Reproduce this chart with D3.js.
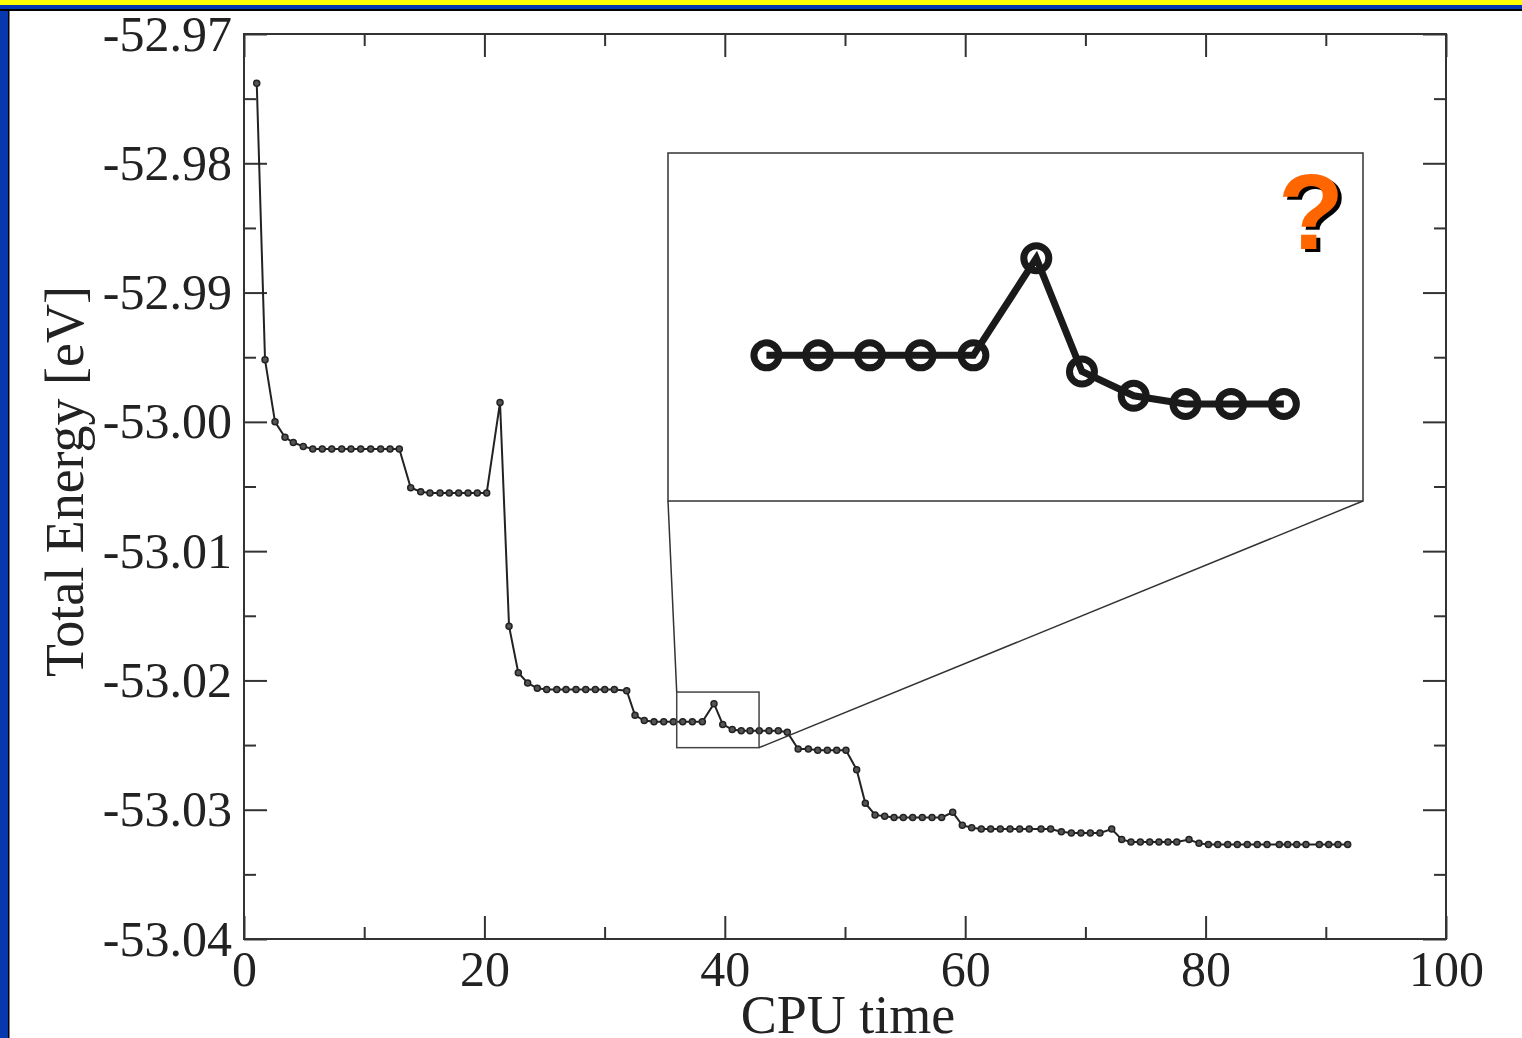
<!DOCTYPE html>
<html>
<head>
<meta charset="utf-8">
<script src="https://cdn.jsdelivr.net/npm/d3@7"></script>
<style>
  body { margin: 0; background: #fff; }
  svg { display: block; }
</style>
</head>
<body>
<div id="chart"></div>
<script>
// data
const cpuTime = [
  1.06, 1.75, 2.58, 3.41, 4.10, 4.93,
  5.72, 6.51, 7.30, 8.13, 8.90, 9.71, 10.54, 11.37, 12.15, 12.92,
  13.87, 14.70,
  15.47, 16.31, 17.08, 17.86, 18.64, 19.41, 20.19,
  21.30,
  22.05, 22.82, 23.60, 24.40, 25.18,
  26.02, 26.79, 27.62, 28.43, 29.23, 30.01, 30.81,
  31.84,
  32.53, 33.30, 34.11,
  34.92, 35.72, 36.50, 37.30, 38.13,
  39.10,
  39.83, 40.62, 41.37,
  42.10, 42.87, 43.68, 44.45,
  45.20,
  46.10, 46.95,
  47.73, 48.53, 49.31, 50.08,
  50.97,
  51.69, 52.50, 53.30, 54.08,
  54.85, 55.63, 56.43, 57.24, 58.04,
  58.96,
  59.76, 60.54, 61.34,
  62.12, 62.92, 63.73, 64.53, 65.33, 66.31, 67.11,
  68.00,
  68.83, 69.63, 70.41, 71.21,
  72.19,
  73.02, 73.79,
  74.57, 75.35, 76.12, 76.87, 77.60,
  78.62,
  79.45,
  80.23, 81.01, 81.84, 82.64, 83.47, 84.30, 85.11, 86.13, 86.83, 87.58, 88.35,
  89.46, 90.24, 91.01, 91.82
];
const totalEnergy = [
  -52.9738, -52.9952, -53.0000, -53.0012, -53.0016, -53.0019,
  -53.0021, -53.0021, -53.0021, -53.0021, -53.0021, -53.0021, -53.0021, -53.0021, -53.0021, -53.0021,
  -53.0051, -53.0054,
  -53.0055, -53.0055, -53.0055, -53.0055, -53.0055, -53.0055, -53.0055,
  -52.9985,
  -53.0158, -53.0194, -53.0202, -53.0206, -53.0207,
  -53.0207, -53.0207, -53.0207, -53.0207, -53.0207, -53.0207, -53.0207,
  -53.0208,
  -53.0227, -53.0231, -53.0232,
  -53.0232, -53.0232, -53.0232, -53.0232, -53.0232,
  -53.0218,
  -53.0234, -53.0238, -53.0239,
  -53.0239, -53.0239, -53.0239, -53.0239,
  -53.0240,
  -53.0253, -53.0253,
  -53.0254, -53.0254, -53.0254, -53.0254,
  -53.0269,
  -53.0295, -53.0304, -53.0305, -53.0306,
  -53.0306, -53.0306, -53.0306, -53.0306, -53.0306,
  -53.0302,
  -53.0312, -53.0314, -53.0315,
  -53.0315, -53.0315, -53.0315, -53.0315, -53.0315, -53.0315, -53.0315,
  -53.0317,
  -53.0318, -53.0318, -53.0318, -53.0318,
  -53.0315,
  -53.0323, -53.0325,
  -53.0325, -53.0325, -53.0325, -53.0325, -53.0325,
  -53.0323,
  -53.0326,
  -53.0327, -53.0327, -53.0327, -53.0327, -53.0327, -53.0327, -53.0327, -53.0327, -53.0327, -53.0327, -53.0327,
  -53.0327, -53.0327, -53.0327, -53.0327
];

// zoomed detail shown in the inset
const insetCpu = [36.97, 37.48, 37.99, 38.49, 39.01, 39.63, 40.08, 40.59, 41.10, 41.55, 42.07];
const insetEnergy = [-53.0234, -53.0234, -53.0234, -53.0234, -53.0234, -53.0222, -53.0236, -53.0239, -53.0240, -53.0240, -53.0240];
const zoomCpu = [36.0, 42.85];
const zoomEnergy = [-53.0209, -53.0252];

const xTicks = [0, 20, 40, 60, 80, 100];
const xMinor = [10, 30, 50, 70, 90];
const yTicks = [-52.97, -52.98, -52.99, -53.00, -53.01, -53.02, -53.03, -53.04];
const yMinor = [-52.975, -52.985, -52.995, -53.005, -53.015, -53.025, -53.035];

const W = 1522, H = 1038;
const margin = {top: 34, right: 76, bottom: 99, left: 244},
	innerWidth = W - margin.left - margin.right,
	innerHeight = H - margin.top - margin.bottom;

const svg = d3.select('#chart').append('svg').attr('width', W).attr('height', H);

// slide frame
svg.append('rect').attr('width', W).attr('height', H).attr('fill', '#fff');
svg.append('rect').attr('x', 0).attr('y', 0).attr('width', 8).attr('height', H).attr('fill', '#0638b0');
svg.append('rect').attr('x', 0).attr('y', 0).attr('width', W).attr('height', 9).attr('fill', '#0638b0');
svg.append('rect').attr('x', 0).attr('y', 0).attr('width', W).attr('height', 5).attr('fill', '#ffff00');
svg.append('rect').attr('x', 0).attr('y', 9).attr('width', W).attr('height', 2).attr('fill', '#000');
svg.append('rect').attr('x', 8).attr('y', 9).attr('width', 1.5).attr('height', H).attr('fill', '#000');

const g = svg.append('g').attr('transform', `translate(${margin.left},${margin.top})`);

const x = d3.scaleLinear().domain([0, 100]).range([0, innerWidth]);
const y = d3.scaleLinear().domain([-52.97, -53.04]).range([0, innerHeight]);

const font = '"Liberation Serif", "Times New Roman", serif';

// axes (ticks inward on all four sides)
const styleAxis = sel => {
	sel.select('.domain').remove();
	sel.selectAll('line').attr('stroke', '#333').attr('stroke-width', 2);
	sel.selectAll('text').attr('font-family', font).attr('font-size', 50).attr('fill', '#222');
};
g.append('g').attr('transform', `translate(0,${innerHeight})`)
	.call(d3.axisBottom(x).tickValues(xTicks).tickSize(-23).tickPadding(11).tickFormat(d => d))
	.call(styleAxis);
g.append('g').attr('transform', `translate(0,${innerHeight})`)
	.call(d3.axisBottom(x).tickValues(xMinor).tickSize(-12).tickFormat(''))
	.call(styleAxis);
g.append('g')
	.call(d3.axisTop(x).tickValues(xTicks).tickSize(-23).tickFormat(''))
	.call(styleAxis);
g.append('g')
	.call(d3.axisTop(x).tickValues(xMinor).tickSize(-12).tickFormat(''))
	.call(styleAxis);
g.append('g')
	.call(d3.axisLeft(y).tickValues(yTicks).tickSize(-23).tickPadding(12).tickFormat(d => d.toFixed(2)))
	.call(styleAxis);
g.append('g')
	.call(d3.axisLeft(y).tickValues(yMinor).tickSize(-12).tickFormat(''))
	.call(styleAxis);
g.append('g').attr('transform', `translate(${innerWidth},0)`)
	.call(d3.axisRight(y).tickValues(yTicks).tickSize(-23).tickFormat(''))
	.call(styleAxis);
g.append('g').attr('transform', `translate(${innerWidth},0)`)
	.call(d3.axisRight(y).tickValues(yMinor).tickSize(-12).tickFormat(''))
	.call(styleAxis);

g.append('rect')
	.attr('width', innerWidth).attr('height', innerHeight)
	.attr('fill', 'none').attr('stroke', '#333').attr('stroke-width', 2);

// axis titles
g.append('text')
	.attr('x', innerWidth / 2 + 3).attr('y', innerHeight + 94)
	.attr('text-anchor', 'middle')
	.attr('font-family', font).attr('font-size', 54).attr('fill', '#222')
	.text('CPU time');
g.append('text')
	.attr('transform', `translate(${83 - margin.left},${innerHeight / 2 - 5}) rotate(-90)`)
	.attr('text-anchor', 'middle')
	.attr('font-family', font).attr('font-size', 54).attr('fill', '#222')
	.text('Total Energy [eV]');

// main series
const data = cpuTime.map((t, i) => ({t: t, e: totalEnergy[i]}));
const line = d3.line().x(d => x(d.t)).y(d => y(d.e));
g.append('path').datum(data)
	.attr('d', line)
	.attr('fill', 'none').attr('stroke', '#222').attr('stroke-width', 2);
g.append('g').selectAll('circle')
	.data(data).enter().append('circle')
	.attr('cx', d => x(d.t)).attr('cy', d => y(d.e)).attr('r', 3)
	.attr('fill', '#555').attr('stroke', '#222').attr('stroke-width', 1.5);

// zoom window + inset panel
const inset = {x: 668 - margin.left, y: 153 - margin.top, w: 695, h: 348};
const zx0 = x(zoomCpu[0]), zx1 = x(zoomCpu[1]), zy0 = y(zoomEnergy[0]), zy1 = y(zoomEnergy[1]);

g.append('rect')
	.attr('x', zx0).attr('y', zy0).attr('width', zx1 - zx0).attr('height', zy1 - zy0)
	.attr('fill', 'none').attr('stroke', '#444').attr('stroke-width', 1.5);
g.append('line')
	.attr('x1', inset.x).attr('y1', inset.y + inset.h).attr('x2', zx0).attr('y2', zy0)
	.attr('stroke', '#333').attr('stroke-width', 1.5);
g.append('line')
	.attr('x1', inset.x + inset.w).attr('y1', inset.y + inset.h).attr('x2', zx1).attr('y2', zy1)
	.attr('stroke', '#333').attr('stroke-width', 1.5);

const ig = g.append('g').attr('transform', `translate(${inset.x},${inset.y})`);
ig.append('rect')
	.attr('width', inset.w).attr('height', inset.h)
	.attr('fill', '#fff').attr('stroke', '#333').attr('stroke-width', 1.5);

const ix = d3.scaleLinear().domain(zoomCpu).range([0, inset.w]);
const iy = d3.scaleLinear().domain(zoomEnergy).range([0, inset.h]);
const insetData = insetCpu.map((t, i) => ({t: t, e: insetEnergy[i]}));

ig.append('path').datum(insetData)
	.attr('d', d3.line().x(d => ix(d.t)).y(d => iy(d.e)))
	.attr('fill', 'none').attr('stroke', '#1a1a1a').attr('stroke-width', 7)
	.attr('stroke-linejoin', 'miter');
ig.append('g').selectAll('circle')
	.data(insetData).enter().append('circle')
	.attr('cx', d => ix(d.t)).attr('cy', d => iy(d.e)).attr('r', 12.5)
	.attr('fill', 'none').attr('stroke', '#1a1a1a').attr('stroke-width', 7);

// question mark
const qm = ig.append('g').attr('font-family', '"Liberation Sans", Arial, sans-serif')
	.attr('font-weight', 'bold').attr('font-size', 108).attr('text-anchor', 'middle');
qm.append('text').attr('x', 1311 - 668 + 4).attr('y', 249 - 153 + 3).attr('fill', '#000').text('?');
qm.append('text').attr('x', 1311 - 668).attr('y', 249 - 153).attr('fill', '#ff6600').text('?');
</script>
</body>
</html>
